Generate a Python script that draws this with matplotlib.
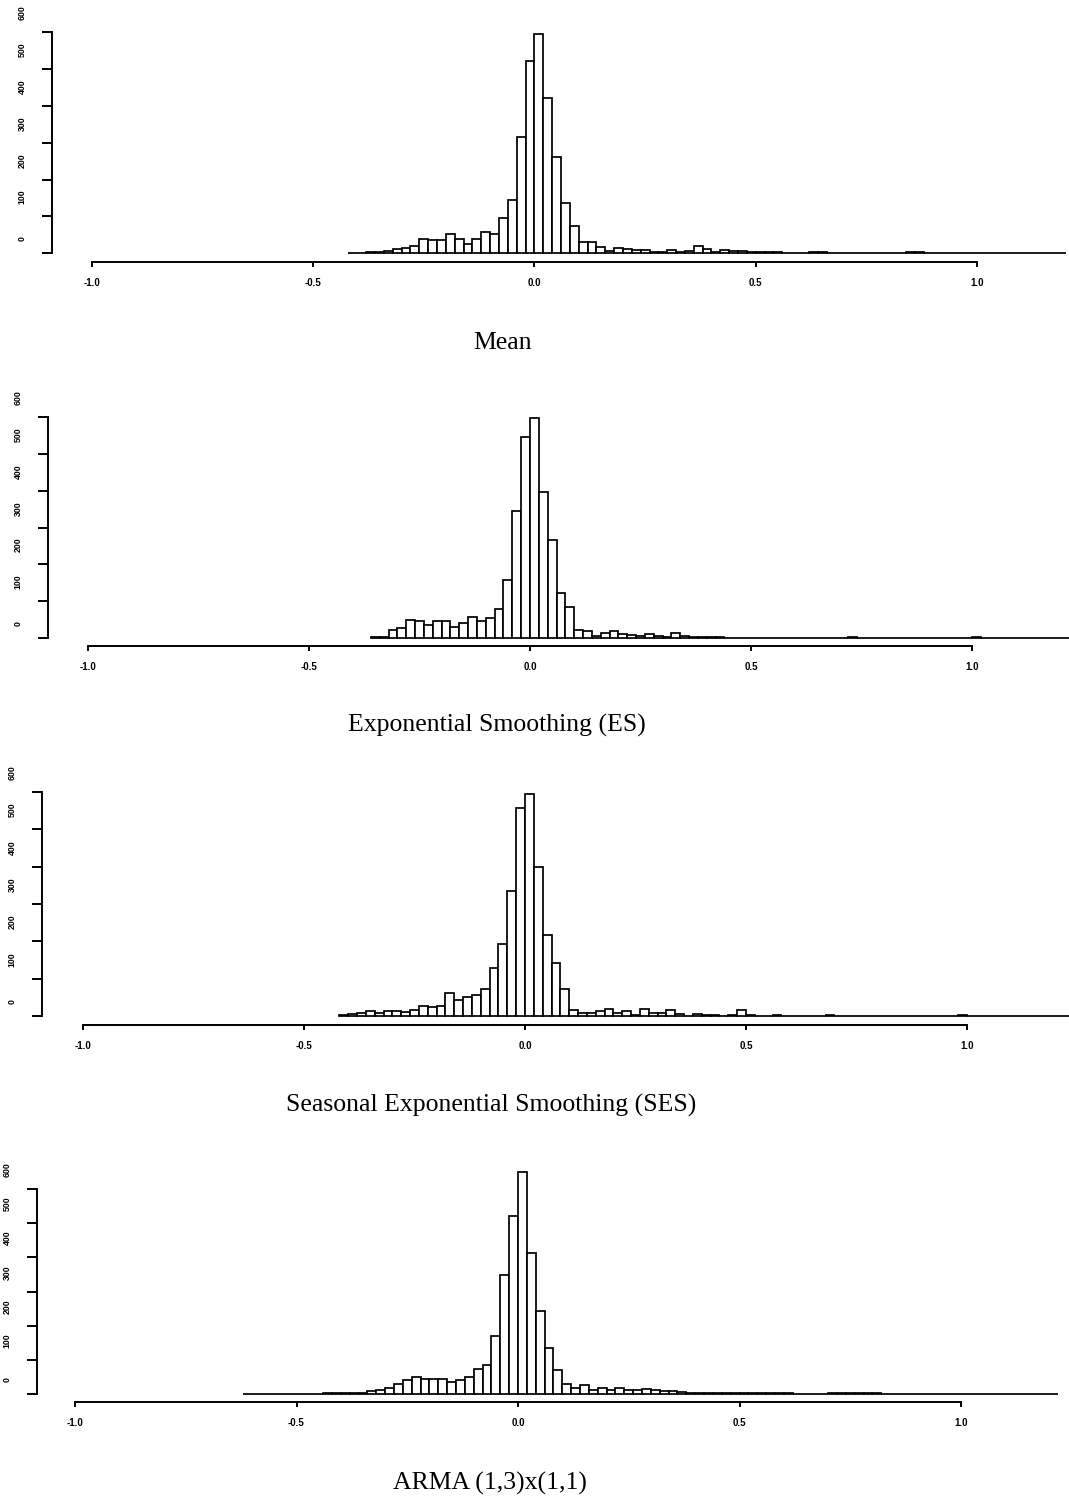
import numpy as np
import matplotlib
matplotlib.use("Agg")
import matplotlib.pyplot as plt
from matplotlib.transforms import ScaledTranslation

W, H = 1069, 1498
fig = plt.figure(figsize=(W / 100, H / 100), dpi=100)

# ---------------- data ----------------
bin_width = 0.02
y_ticks = [0, 100, 200, 300, 400, 500, 600]
y_tick_labels = ["0", "100", "200", "300", "400", "500", "600"]
x_ticks = [-1.0, -0.5, 0.0, 0.5, 1.0]
x_tick_labels = ["-1.0", "-0.5", "0.0", "0.5", "1.0"]

titles = ["Mean", "Exponential Smoothing (ES)",
          "Seasonal Exponential Smoothing (SES)", "ARMA (1,3)x(1,1)"]

mean_start = -0.42
mean_counts = [1, 1, 2, 3, 5, 11, 13, 18, 38, 36, 36, 51, 39, 24, 39, 58, 53, 96, 144, 316, 522,
               597, 423, 260, 136, 73, 30, 30, 16, 5, 14, 12, 7, 7, 2, 3, 8, 2, 5, 20, 10, 2, 7, 6, 5,
               2, 3, 3, 2, 1, 1, 1, 2, 4, 1, 1, 0, 1, 1, 0, 1, 1, 1, 2, 3, 1,
               0, 1, 0, 0, 1, 0, 0, 0, 1, 0, 0, 0, 0, 0, 0]

es_start = -0.36
es_counts = [3, 3, 22, 27, 48, 47, 34, 47, 46, 30, 42, 57, 45, 54, 80, 157, 344, 545,
             598, 397, 265, 123, 84, 23, 19, 6, 13, 18, 10, 8, 5, 11, 6, 4, 13, 6, 2, 2, 2, 3,
             1, 1, 1, 1, 1, 0, 1, 0, 0, 1, 0, 0, 0, 0, 2, 1, 0, 0, 0, 0, 0, 0, 0, 0, 0, 0, 0, 0,
             2, 1, 0, 0, 0, 0, 0, 0, 0, 0, 0]

ses_start = -0.42
ses_counts = [3, 5, 7, 13, 7, 14, 14, 11, 16, 27, 25, 27, 62, 42, 50, 57, 71, 128, 193, 336, 557,
              594, 398, 218, 143, 73, 16, 7, 7, 13, 20, 7, 14, 3, 19, 7, 7, 15, 5, 1, 6, 2, 2, 1, 2,
              16, 2, 1, 1, 2, 1, 1, 1, 1, 1, 2, 1, 0, 1, 0, 0, 1, 0, 0, 1, 0, 0, 0, 0, 0, 2, 1,
              0, 0, 0, 0, 0, 0, 0, 0, 0, 0, 0]

arma_start = -0.62
arma_counts = [1, 1, 1, 1, 1, 1, 1, 1, 1, 2, 2, 2, 3, 4, 8, 13, 17, 28, 40, 49, 43, 43, 43, 35, 40,
               50, 73, 85, 169, 348, 522,
               650, 413, 244, 134, 70, 28, 17, 25, 13, 19, 11, 17, 13, 12, 16, 13, 10, 10, 5, 3, 3,
               2, 2, 2, 2, 3, 4, 2, 2, 3, 2, 1, 1, 1, 1, 2, 3, 2, 2, 4, 2, 1, 1,
               1, 0, 1, 0, 0, 1, 0, 0, 0, 1, 0, 0, 0, 0, 0, 0, 0, 0]

series = [(mean_start, mean_counts), (es_start, es_counts),
          (ses_start, ses_counts), (arma_start, arma_counts)]

# ---------------- layout (pixels) ----------------
layout = [
    dict(yaxis=52, x0=534.4, scale=442.7, top=32.5, bottom=253, gap=9, tx=503, ty=343),
    dict(yaxis=48, x0=530.0, scale=442.0, top=417, bottom=638, gap=8, tx=497, ty=725),
    dict(yaxis=42, x0=525.0, scale=442.0, top=792, bottom=1016, gap=9, tx=491, ty=1105),
    dict(yaxis=37, x0=518.0, scale=443.0, top=1189, bottom=1394, gap=8, tx=490, ty=1483),
]

xtick_font = dict(family="Liberation Sans", size=7, weight="bold")
ytick_font = dict(family="Liberation Sans", size=6.3, weight="bold")
lw = 1.4

for (start, counts), lay, title in zip(series, layout, titles):
    left = lay["yaxis"] / W
    width = (W - lay["yaxis"]) / W
    bottom = 1 - lay["bottom"] / H
    height = (lay["bottom"] - lay["top"]) / H
    ax = fig.add_axes([left, bottom, width, height])
    xl = (lay["yaxis"] - lay["x0"]) / lay["scale"]
    xr = (W - lay["x0"]) / lay["scale"]
    ax.set_xlim(xl, xr)
    ax.set_ylim(0, 600)

    edges = start + bin_width * np.arange(len(counts))
    ax.bar(edges, counts, width=bin_width, align="edge", facecolor="white",
           edgecolor="black", linewidth=1.25, clip_on=False)

    for s in ("top", "right"):
        ax.spines[s].set_visible(False)
    ax.spines["left"].set_bounds(0, 600)
    ax.spines["left"].set_linewidth(lw)
    ax.spines["bottom"].set_bounds(-1.0, 1.0)
    ax.spines["bottom"].set_linewidth(lw)
    ax.spines["bottom"].set_position(("outward", lay["gap"] * 0.72))

    ax.set_xticks(x_ticks)
    ax.set_xticklabels(x_tick_labels, fontdict=xtick_font)
    ax.set_yticks(y_ticks)
    ax.set_yticklabels(y_tick_labels, fontdict=ytick_font, rotation=90,
                       va="bottom", ha="center")
    ax.tick_params(axis="x", direction="out", length=3.6, width=lw, pad=8.0)
    ax.tick_params(axis="y", direction="out", length=7.5, width=lw, pad=14)
    off = ScaledTranslation(0, 0.12, fig.dpi_scale_trans)
    for lbl in ax.get_yticklabels():
        lbl.set_transform(lbl.get_transform() + off)

    fig.text(lay["tx"] / W, 1 - lay["ty"] / H, title, ha="center", va="center",
             family="Liberation Serif", fontsize=18.5)

fig.savefig("out.png", dpi=100)
